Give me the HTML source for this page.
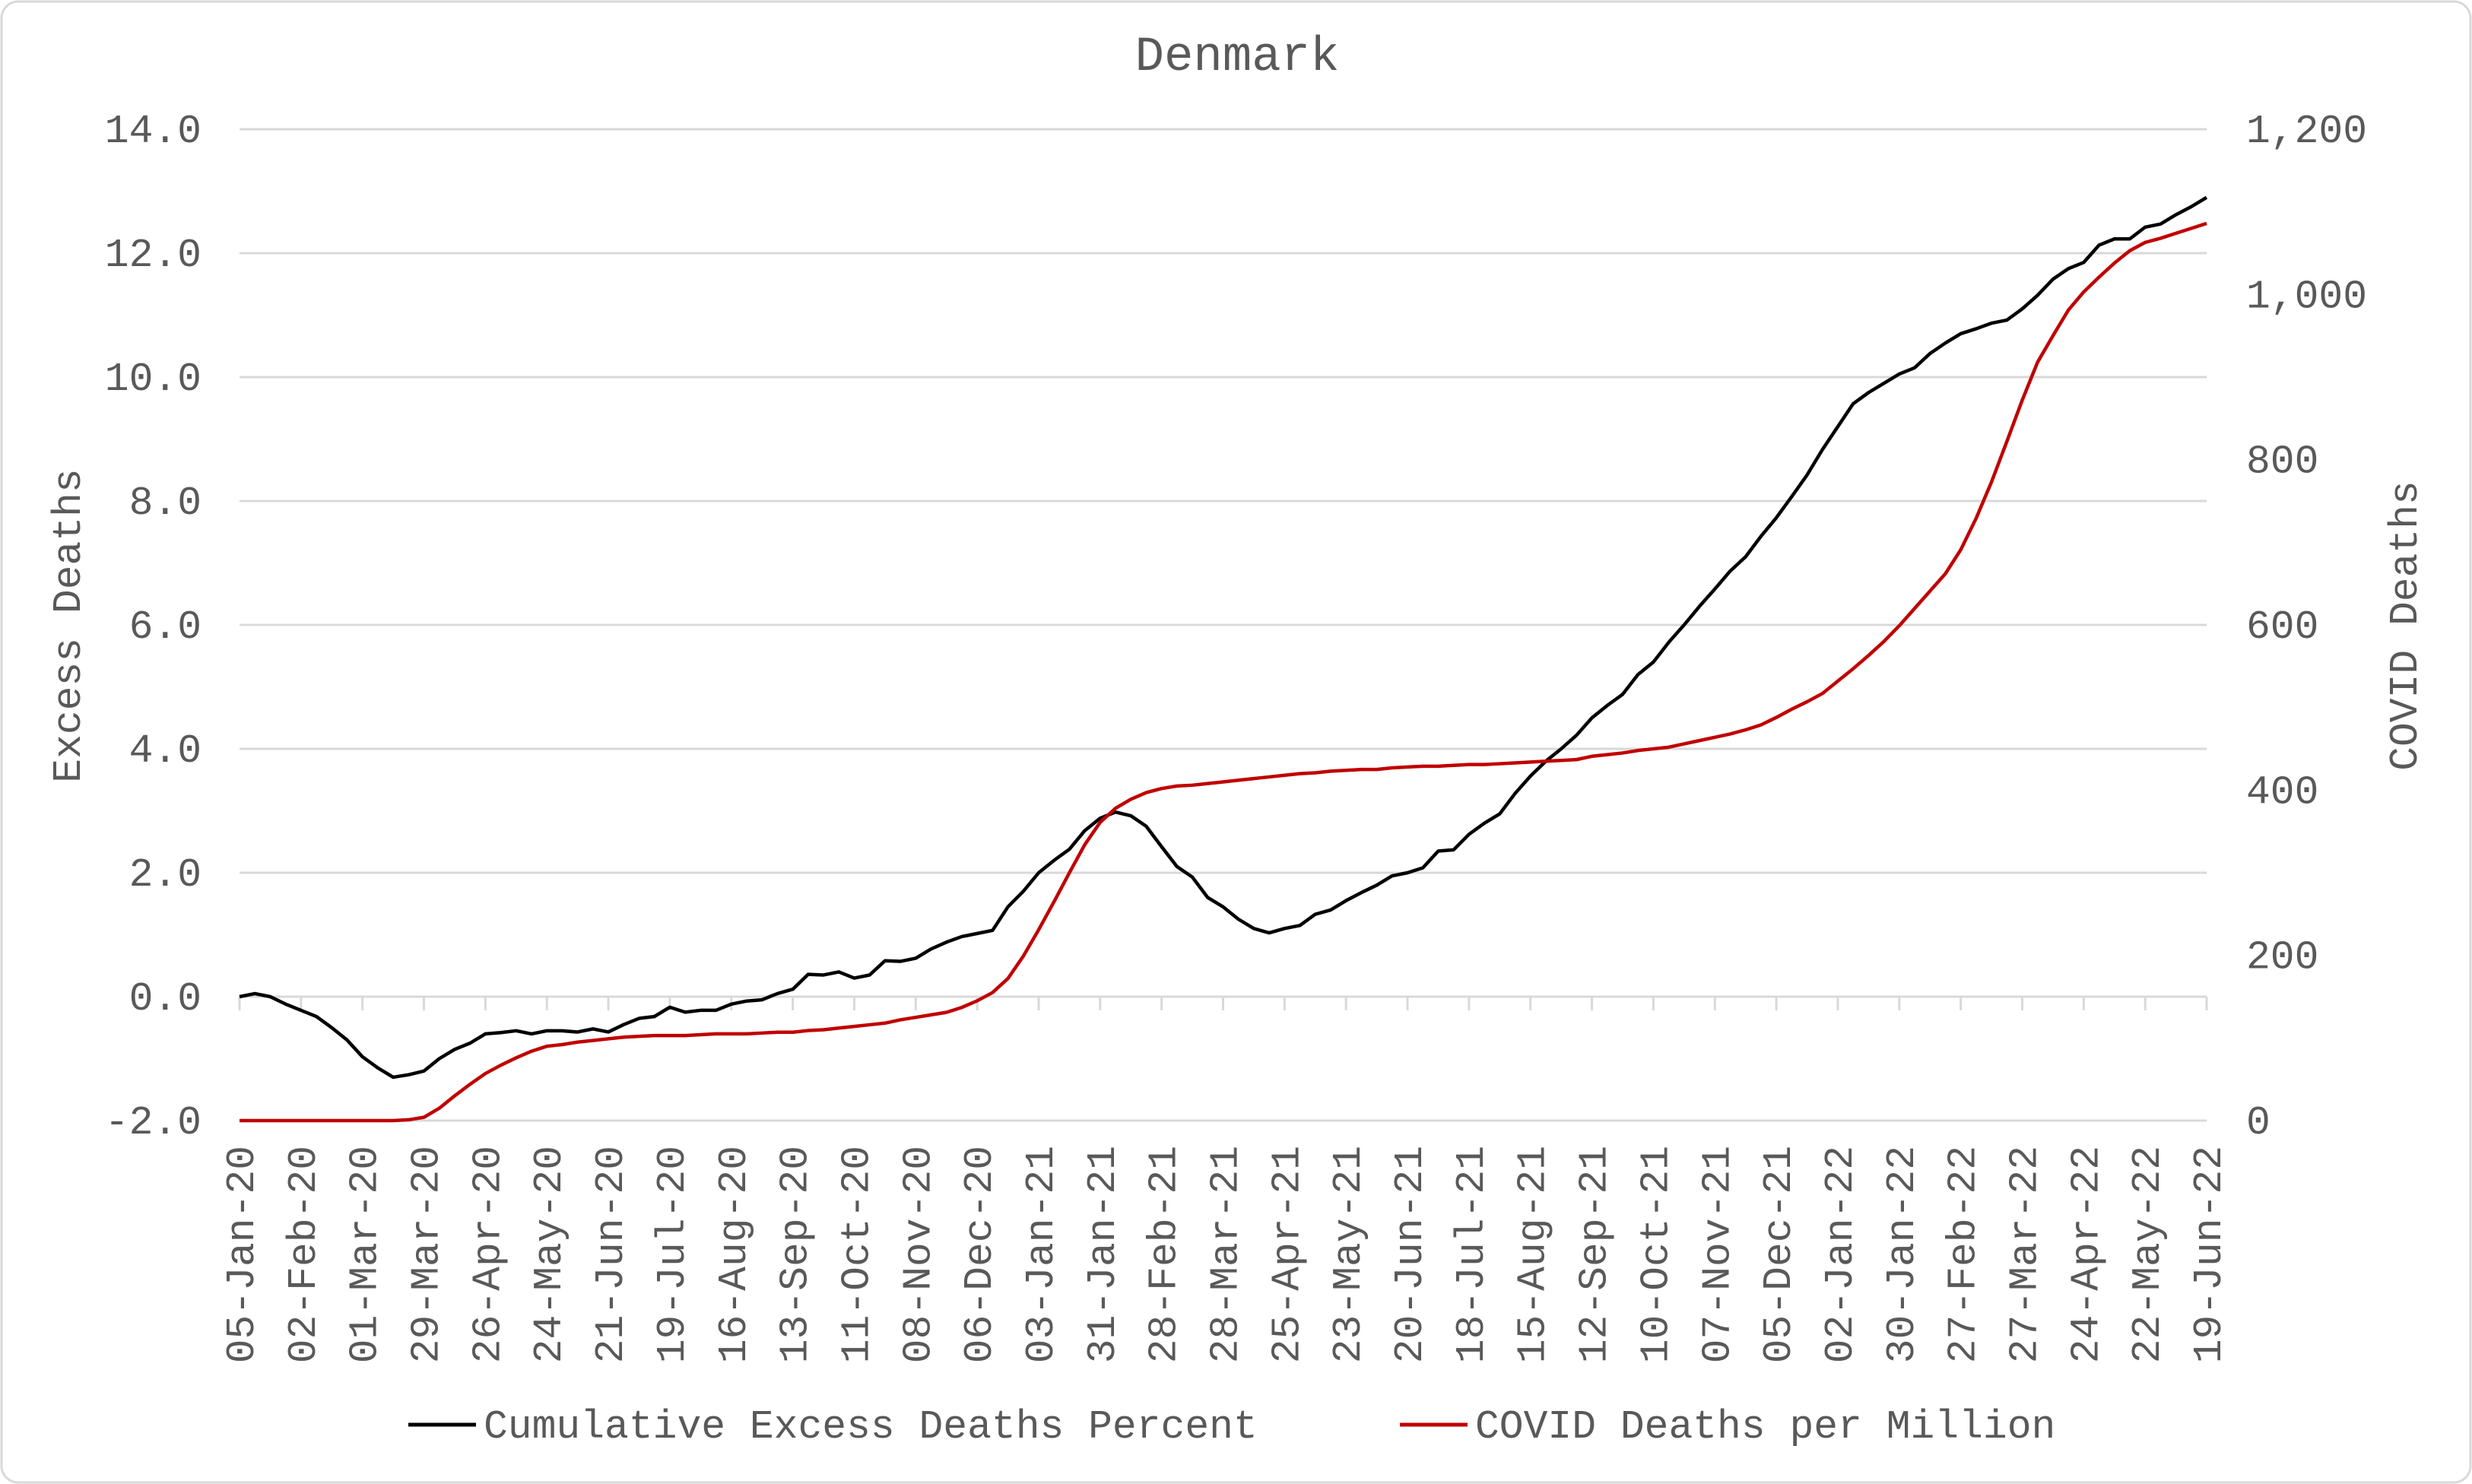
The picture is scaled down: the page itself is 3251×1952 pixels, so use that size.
<!DOCTYPE html>
<html><head><meta charset="utf-8"><style>
html,body{margin:0;padding:0;background:#fff;}
svg{display:block;}
text{font-family:"Liberation Mono",monospace;fill:#595959;}
</style></head><body>
<svg id="chart" width="3251" height="1952" viewBox="0 0 3251 1952" xmlns="http://www.w3.org/2000/svg">
<rect x="2" y="2" width="3247" height="1948" rx="22" fill="#fff" stroke="#d9d9d9" stroke-width="3"/>
<text x="1627" y="92" font-size="64" text-anchor="middle">Denmark</text>
<g id="grid"></g>
<g id="yleft"></g>
<g id="yright"></g>
<g id="xaxis"></g>
<g id="series"></g>
<text transform="translate(105,823) rotate(-90)" font-size="53" text-anchor="middle">Excess Deaths</text>
<text transform="translate(3178,823) rotate(-90)" font-size="53" text-anchor="middle">COVID Deaths</text>
<g>
<g>
<line x1="537" y1="1874" x2="626" y2="1874" stroke="#000" stroke-width="5"/>
<text x="636" y="1891" font-size="53">Cumulative Excess Deaths Percent</text>
</g>
<g>
<line x1="1841" y1="1874" x2="1930" y2="1874" stroke="#c00000" stroke-width="5"/>
<text x="1940" y="1891" font-size="53">COVID Deaths per Million</text>
</g>
</g>
</svg>
<script>
const excessPct = [0.0,0.05,0.0,-0.12,-0.22,-0.32,-0.5,-0.7,-0.97,-1.15,-1.3,-1.26,-1.2,-1.0,-0.85,-0.75,-0.6,-0.58,-0.55,-0.6,-0.55,-0.55,-0.57,-0.52,-0.57,-0.45,-0.35,-0.32,-0.17,-0.25,-0.22,-0.22,-0.12,-0.07,-0.05,0.05,0.12,0.36,0.35,0.4,0.3,0.35,0.58,0.57,0.62,0.77,0.88,0.97,1.02,1.07,1.45,1.7,2.0,2.2,2.38,2.68,2.88,2.98,2.92,2.75,2.42,2.1,1.93,1.6,1.45,1.25,1.1,1.03,1.1,1.15,1.33,1.4,1.55,1.68,1.8,1.95,2.0,2.08,2.35,2.37,2.62,2.8,2.95,3.28,3.56,3.8,4.0,4.22,4.5,4.7,4.88,5.2,5.4,5.72,6.0,6.3,6.58,6.87,7.1,7.43,7.73,8.07,8.42,8.83,9.2,9.57,9.75,9.9,10.05,10.15,10.38,10.55,10.7,10.78,10.87,10.92,11.1,11.32,11.58,11.75,11.85,12.13,12.23,12.23,12.42,12.47,12.62,12.75,12.9];
const covidPerMillion = [0,0,0,0,0,0,0,0,0,0,0,1,4,15,30,44,57,67,76,84,90,92,95,97,99,101,102,103,103,103,104,105,105,105,106,107,107,109,110,112,114,116,118,122,125,128,131,137,145,155,172,199,231,265,300,334,361,378,389,397,402,405,406,408,410,412,414,416,418,420,421,423,424,425,425,427,428,429,429,430,431,431,432,433,434,435,436,437,441,443,445,448,450,452,456,460,464,468,473,479,488,498,507,517,532,547,563,580,599,620,641,662,691,729,773,822,872,918,950,981,1003,1021,1038,1053,1063,1068,1074,1080,1086];
const xTickLabels = ["05-Jan-20","02-Feb-20","01-Mar-20","29-Mar-20","26-Apr-20","24-May-20","21-Jun-20","19-Jul-20","16-Aug-20","13-Sep-20","11-Oct-20","08-Nov-20","06-Dec-20","03-Jan-21","31-Jan-21","28-Feb-21","28-Mar-21","25-Apr-21","23-May-21","20-Jun-21","18-Jul-21","15-Aug-21","12-Sep-21","10-Oct-21","07-Nov-21","05-Dec-21","02-Jan-22","30-Jan-22","27-Feb-22","27-Mar-22","24-Apr-22","22-May-22","19-Jun-22"];
const leftTicks = [-2,0,2,4,6,8,10,12,14];
const rightTicks = [0,200,400,600,800,1000,1200];

const NS="http://www.w3.org/2000/svg";
const X0=315,X1=2902,YT=170,YB=1474;
const xs=i=>X0+(X1-X0)*i/(excessPct.length-1);
const yl=v=>YB-(v+2)/16*(YB-YT);
const yr=v=>YB-v/1200*(YB-YT);
function mk(tag,attrs,parent){const e=document.createElementNS(NS,tag);for(const k in attrs)e.setAttribute(k,attrs[k]);parent.appendChild(e);return e;}
const grid=document.getElementById('grid'),yL=document.getElementById('yleft'),yR=document.getElementById('yright'),xa=document.getElementById('xaxis'),ser=document.getElementById('series');
leftTicks.forEach(v=>{
  const g=mk('line',{x1:X0,x2:X1,y1:yl(v),y2:yl(v),stroke:'#d9d9d9','stroke-width':3},grid);
  
  
  const t=mk('text',{x:265,y:yl(v)+17,'font-size':53,'text-anchor':'end'},yL);
  t.textContent=v.toFixed(1);
  
  
});
rightTicks.forEach(v=>{
  const t=mk('text',{x:2954,y:yr(v)+17,'font-size':53},yR);
  t.textContent=v.toLocaleString('en-US');
  
  
});
const y0=yl(0);
xTickLabels.forEach((lab,k)=>{
  const x=xs(k*4);
  const tk=mk('line',{x1:x,x2:x,y1:y0,y2:y0+18,stroke:'#d9d9d9','stroke-width':3},xa);
  
  
  const t=mk('text',{transform:`translate(${x+18},1507) rotate(-90)`,'font-size':53,'text-anchor':'end'},xa);
  t.textContent=lab;
  
  
});
const pb=mk('polyline',{points:excessPct.map((v,i)=>xs(i)+','+yl(v)).join(' '),fill:'none',stroke:'#000','stroke-width':4.5,'stroke-linejoin':'round'},ser);


const pr=mk('polyline',{points:covidPerMillion.map((v,i)=>xs(i)+','+yr(v)).join(' '),fill:'none',stroke:'#c00000','stroke-width':4.5,'stroke-linejoin':'round'},ser);


</script>
</body></html>
